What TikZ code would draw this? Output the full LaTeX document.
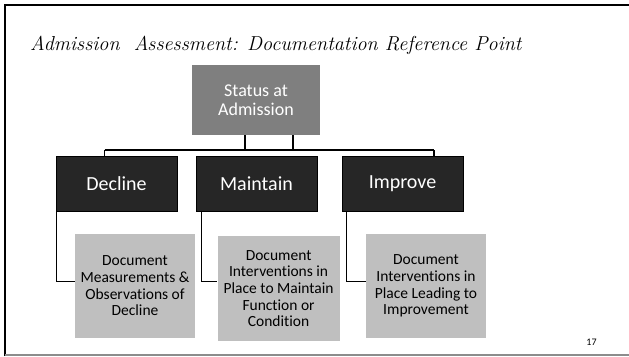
\documentclass[tikz,border=0pt]{standalone}
\usepackage{fontspec}
\newfontfamily\calibri[RawFeature=-liga]{Carlito}
\usetikzlibrary{calc}
\usepackage{xcolor}
\definecolor{statusgray}{HTML}{7F7F7F}
\definecolor{levelfill}{HTML}{262626}
\definecolor{leafgray}{HTML}{BFBFBF}
\definecolor{footline}{HTML}{8C8C8C}
\tikzset{
    wire/.style={line width=1.1pt},
    statusbox/.style={fill=statusgray, text=white, inner sep=0pt, align=center,
        minimum width=128pt, minimum height=70pt, font=\calibri\fontsize{18}{19}\selectfont},
    levelbox/.style={fill=levelfill, draw=black, line width=1pt, text=white, inner sep=0pt,
        minimum width=121pt, minimum height=55pt, font=\calibri\fontsize{20}{22}\selectfont},
    leafbox/.style={fill=leafgray, inner sep=0pt, align=center,
        font=\calibri\fontsize{15.5}{16.7}\selectfont}
}

\begin{document}
\begin{tikzpicture}[x=1pt,y=-1pt]
        \useasboundingbox (0,0) rectangle (629,356);
        % slide frame
        \draw[line width=2pt] (5,356)--(5,5)--(629,5);
        \draw[footline,line width=1.6pt] (5,355)--(629,355);
        \node[anchor=base west,inner sep=0pt,font=\itshape\fontsize{20.2}{24}\selectfont] (title) at (30,50) {Admission\ \ Assessment: Documentation Reference Point};
        \node[anchor=center,inner sep=0pt,font=\calibri\fontsize{10}{12}\selectfont] (pagenum) at (591.5,342) {17};
        % hierarchy
        \node[statusbox] (status) at (256,100) {Status at\\Admission};
        \foreach \name/\x/\txt in {decline/116.5/Decline,maintain/256.5/Maintain,improve/402.5/Improve}{
            \node[levelbox] (\name) at (\x,183.5) {\txt};
            }
        \node[leafbox,minimum width=120pt,minimum height=104pt] (decline-leaf) at (135,286) {Document\\Measurements \&\\Observations of\\Decline};
        \node[leafbox,minimum width=122pt,minimum height=105pt] (maintain-leaf) at (278.6,288.5) {Document\\Interventions in\\Place to Maintain\\Function or\\Condition};
        \node[leafbox,minimum width=120pt,minimum height=104pt] (improve-leaf) at (426,286) {Document\\Interventions in\\Place Leading to\\Improvement};
        % connectors
        \coordinate (busL) at (104.7,150);
        \coordinate (busR) at (434,150);
        \draw[wire] (busL)--(busR);
        \draw[wire] ([xshift=-11pt]status.south)--([xshift=-11pt]status.south |- busL);
        \draw[wire] ([xshift=37pt]status.south)--([xshift=37pt]status.south |- busR);
        \draw[wire] (busL)--(decline.north -| busL);
        \draw[wire] (busR)--(improve.north -| busR);
        \foreach \name/\dx/\dy in {decline/1.3/4.7,maintain/6.3/7.2,improve/5/4.7}{
            \draw[wire] ([xshift=\dx pt]\name.south west) |- ([yshift=\dy pt]\name-leaf.west);
            }
    \end{tikzpicture}
\end{document}
